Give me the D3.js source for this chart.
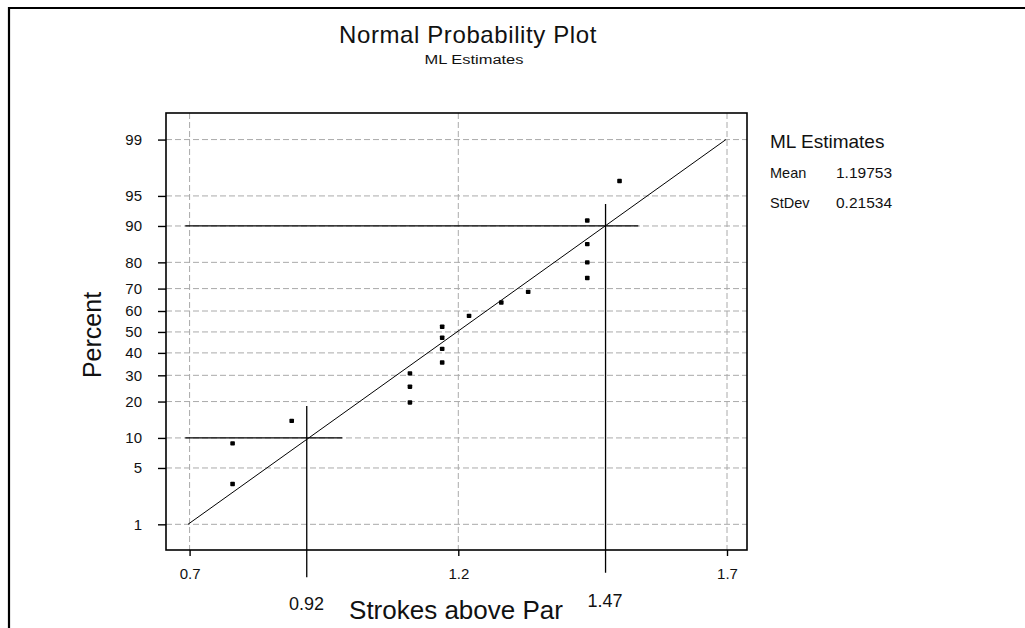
<!DOCTYPE html>
<html>
<head>
<meta charset="utf-8">
<script src="https://cdn.jsdelivr.net/npm/d3@7"></script>
<style>
  body { margin: 0; background: #fff; }
  svg { display: block; font-family: "Liberation Sans", Arial, sans-serif; }
</style>
</head>
<body>
<svg id="npp" width="1025" height="628"></svg>
<script>
// data
const strokes = [0.78, 0.78, 0.89, 1.11, 1.11, 1.11, 1.17, 1.17, 1.17, 1.17, 1.22, 1.28, 1.33, 1.44, 1.44, 1.44, 1.44, 1.50];
const percent = [3.3, 8.9, 14.1, 19.7, 25.4, 30.8, 35.6, 41.9, 47.2, 52.5, 57.7, 63.9, 68.6, 74.3, 80.0, 85.6, 91.1, 96.6];
const xTicks = [0.7, 1.2, 1.7];
const yTicks = [1, 5, 10, 20, 30, 40, 50, 60, 70, 80, 90, 95, 99];
const fitLine = [[0.697, 1], [1.698, 99]];
// reference lines: [x1, p1, x2, p2]
const refLines = [
    [0.692, 10, 0.984, 10],
    [0.918, 18.5, 0.918, 0.15],
    [0.692, 90, 1.535, 90],
    [1.474, 93.9, 1.474, 0.18]
];
const refLabels = ["0.92", "1.47"];
const estNames = ["Mean", "StDev"];
const estValues = ["1.19753", "0.21534"];

// inverse normal cdf (Acklam)
function probit(p) {
    const a = [-3.969683028665376e+01, 2.209460984245205e+02, -2.759285104469687e+02, 1.383577518672690e+02, -3.066479806614716e+01, 2.506628277459239e+00];
    const b = [-5.447609879822406e+01, 1.615858368580409e+02, -1.556989798598866e+02, 6.680131188771972e+01, -1.328068155288572e+01];
    const c = [-7.784894002430293e-03, -3.223964580411365e-01, -2.400758277161838e+00, -2.549732539343734e+00, 4.374664141464968e+00, 2.938163982698783e+00];
    const d = [7.784695709041462e-03, 3.224671290700398e-01, 2.445134137142996e+00, 3.754408661907416e+00];
    let q, r;
    if (p < 0.02425) {
        q = Math.sqrt(-2 * Math.log(p));
        return (((((c[0]*q+c[1])*q+c[2])*q+c[3])*q+c[4])*q+c[5]) / ((((d[0]*q+d[1])*q+d[2])*q+d[3])*q+1);
    }
    if (p <= 1 - 0.02425) {
        q = p - 0.5; r = q * q;
        return (((((a[0]*r+a[1])*r+a[2])*r+a[3])*r+a[4])*r+a[5])*q / (((((b[0]*r+b[1])*r+b[2])*r+b[3])*r+b[4])*r+1);
    }
    q = Math.sqrt(-2 * Math.log(1 - p));
    return -(((((c[0]*q+c[1])*q+c[2])*q+c[3])*q+c[4])*q+c[5]) / ((((d[0]*q+d[1])*q+d[2])*q+d[3])*q+1);
}

const plotLeft = 166, plotTop = 113, plotRight = 747, plotBottom = 550;

var svg = d3.select("#npp");

var x = d3.scaleLinear().domain([0.6561, 1.7372]).range([plotLeft, plotRight]);
var yz = d3.scaleLinear().domain([-2.6368, 2.6477]).range([plotBottom, plotTop]);
var y = function(p) { return yz(probit(p / 100)); };

//outer border
svg.append("path")
    .attr("d", "M9,628V8H1025")
    .attr("fill", "none")
    .attr("stroke", "#000")
    .attr("stroke-width", 2.2);

//grid
var grid = svg.append("g").attr("stroke", "#aaa").attr("stroke-dasharray", "6,3").attr("stroke-width", 1);
grid.selectAll(".gy").data(yTicks).enter().append("line")
    .attr("x1", plotLeft).attr("x2", plotRight)
    .attr("y1", d => y(d)).attr("y2", d => y(d));
grid.selectAll(".gx").data(xTicks).enter().append("line")
    .attr("y1", plotTop).attr("y2", plotBottom)
    .attr("x1", d => x(d)).attr("x2", d => x(d));

//axes
var yAxis = d3.axisLeft(yz)
    .tickValues(yTicks.map(d => probit(d / 100)))
    .tickFormat((d, i) => yTicks[i])
    .tickSize(8).tickPadding(16);
var gy = svg.append("g").attr("transform", "translate(" + plotLeft + ",0)").call(yAxis);

var xAxis = d3.axisBottom(x).tickValues(xTicks).tickFormat(d3.format(".1f")).tickSize(6).tickPadding(12);
var gx = svg.append("g").attr("transform", "translate(0," + plotBottom + ")").call(xAxis);

[gx, gy].forEach(function(g) {
    g.select(".domain").remove();
    g.selectAll(".tick line").attr("stroke", "#000").attr("stroke-width", 1.4);
    g.selectAll(".tick text").attr("fill", "#111").attr("font-size", 15).attr("font-family", "Liberation Sans, Arial, sans-serif");
});

//frame
svg.append("rect")
    .attr("x", plotLeft).attr("y", plotTop)
    .attr("width", plotRight - plotLeft).attr("height", plotBottom - plotTop)
    .attr("fill", "none").attr("stroke", "#000").attr("stroke-width", 1.6);

//fitted line
svg.append("line")
    .attr("x1", x(fitLine[0][0])).attr("y1", y(fitLine[0][1]))
    .attr("x2", x(fitLine[1][0])).attr("y2", y(fitLine[1][1]))
    .attr("stroke", "#000").attr("stroke-width", 1);

//percentile reference lines
svg.selectAll(".ref").data(refLines).enter().append("line")
    .attr("x1", d => x(d[0])).attr("y1", d => y(d[1]))
    .attr("x2", d => x(d[2])).attr("y2", d => y(d[3]))
    .attr("stroke", "#000").attr("stroke-width", 1.3);

//points
svg.selectAll(".pt").data(strokes).enter().append("rect")
    .attr("x", d => x(d) - 2.3)
    .attr("y", (d, i) => y(percent[i]) - 2.2)
    .attr("width", 4.6).attr("height", 4.4)
    .attr("rx", 0.8)
    .attr("fill", "#000");

//titles
svg.append("text").attr("x", 468).attr("y", 43)
    .attr("text-anchor", "middle").attr("font-size", 24).attr("letter-spacing", 0.6)
    .attr("fill", "#111").text("Normal Probability Plot");
svg.append("text").attr("x", 474).attr("y", 64)
    .attr("text-anchor", "middle").attr("font-size", 12)
    .attr("textLength", 99).attr("lengthAdjust", "spacingAndGlyphs")
    .attr("fill", "#111").text("ML Estimates");

svg.append("text")
    .attr("transform", "translate(100.5,335)rotate(-90)")
    .attr("text-anchor", "middle").attr("font-size", 25)
    .attr("fill", "#111").text("Percent");

svg.append("text").attr("x", 456).attr("y", 619)
    .attr("text-anchor", "middle").attr("font-size", 26)
    .attr("fill", "#111").text("Strokes above Par");

svg.append("text").attr("x", 306.5).attr("y", 610)
    .attr("text-anchor", "middle").attr("font-size", 18)
    .attr("fill", "#111").text(refLabels[0]);
svg.append("text").attr("x", 605).attr("y", 607)
    .attr("text-anchor", "middle").attr("font-size", 18)
    .attr("fill", "#111").text(refLabels[1]);

//estimates box
svg.append("text").attr("x", 770).attr("y", 148)
    .attr("font-size", 19).attr("fill", "#111").text("ML Estimates");
estNames.forEach(function(n, i) {
    svg.append("text").attr("x", 770).attr("y", 178 + i * 30)
        .attr("font-size", 14.5).attr("fill", "#111").text(n);
    svg.append("text").attr("x", 836).attr("y", 178 + i * 30)
        .attr("font-size", 15.5).attr("fill", "#111").text(estValues[i]);
});
</script>
</body>
</html>
